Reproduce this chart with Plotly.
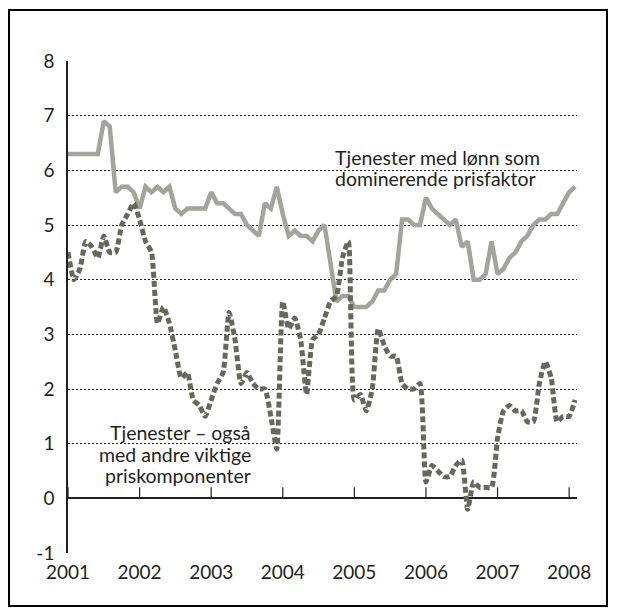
import plotly.graph_objects as go

# Monthly data, Jan 2001 - Feb 2008
start_year = 2001
lonn = [6.3, 6.3, 6.3, 6.3, 6.3, 6.3, 6.9, 6.8, 5.6, 5.7, 5.7, 5.6,
        5.3, 5.7, 5.6, 5.7, 5.6, 5.7, 5.3, 5.2, 5.3, 5.3, 5.3, 5.3,
        5.6, 5.4, 5.4, 5.3, 5.2, 5.2, 5.0, 4.9, 4.8, 5.4, 5.3, 5.7,
        5.2, 4.8, 4.9, 4.8, 4.8, 4.7, 4.9, 5.0, 4.3, 3.6, 3.7, 3.7,
        3.5, 3.5, 3.5, 3.6, 3.8, 3.8, 4.0, 4.1, 5.1, 5.1, 5.0, 5.0,
        5.5, 5.3, 5.2, 5.1, 5.0, 5.1, 4.6, 4.7, 4.0, 4.0, 4.1, 4.7,
        4.1, 4.2, 4.4, 4.5, 4.7, 4.8, 5.0, 5.1, 5.1, 5.2, 5.2, 5.4,
        5.6, 5.7]
ogsa = [4.5, 4.0, 4.2, 4.7, 4.6, 4.4, 4.8, 4.5, 4.5, 5.0, 5.2, 5.4,
        5.1, 4.7, 4.5, 3.2, 3.5, 3.2, 2.7, 2.2, 2.3, 1.8, 1.7, 1.5,
        1.8, 2.1, 2.3, 3.4, 2.9, 2.1, 2.3, 2.1, 2.0, 2.0, 1.5, 0.9,
        3.6, 3.1, 3.3, 2.9, 1.9, 2.9, 3.0, 3.3, 3.6, 3.7, 4.4, 4.7,
        1.8, 1.9, 1.6, 2.0, 3.1, 2.8, 2.6, 2.6, 2.1, 2.0, 2.0, 2.1,
        0.3, 0.6, 0.5, 0.4, 0.4, 0.6, 0.7, -0.2, 0.3, 0.2, 0.2, 0.2,
        1.1, 1.6, 1.7, 1.6, 1.6, 1.4, 1.4, 2.1, 2.5, 2.2, 1.4, 1.5,
        1.5, 1.8]
x_vals = [start_year + i / 12 for i in range(len(lonn))]

year_ticks = [2001, 2002, 2003, 2004, 2005, 2006, 2007, 2008]
y_ticks = [-1, 0, 1, 2, 3, 4, 5, 6, 7, 8]
y_ticktext = ["-1", "0", "1", "2", "3", "4", "5", "6", "7", "8"]

label_top = ["Tjenester med lønn som", "dominerende prisfaktor"]
label_bottom = ["Tjenester – også", "med andre viktige", "priskomponenter"]

TXT = "#231f20"
FONT = "Lato"
FS = 19
FS_LABEL = 19.5

fig = go.Figure()
fig.add_trace(go.Scatter(x=x_vals, y=lonn, mode="lines",
                         line=dict(color="#a4a49a", width=4.5),
                         hoverinfo="skip", showlegend=False))
fig.add_trace(go.Scatter(x=x_vals, y=ogsa, mode="lines",
                         line=dict(color="#67675c", width=5, dash="6px,3px",
                                   shape="spline", smoothing=0.5),
                         hoverinfo="skip", showlegend=False))

shapes = []
for yr in year_ticks:
    shapes.append(dict(type="line", xref="x", yref="y", ysizemode="pixel",
                       yanchor=0, x0=yr, x1=yr, y0=0, y1=11,
                       line=dict(color=TXT, width=1.2)))
# outer frame
shapes.append(dict(type="rect", xref="paper", yref="paper",
                   x0=-0.1159, x1=1.0589, y0=-0.1077, y1=1.1037,
                   line=dict(color="#000000", width=2), layer="below"))

annotations = []
for i, t in enumerate(label_top):
    annotations.append(dict(x=2004.70, y=6.24 - i * 0.395, text=t, showarrow=False,
                            xanchor="left", yanchor="middle", align="left",
                            font=dict(family=FONT, size=FS_LABEL, color=TXT)))
for i, t in enumerate(label_bottom):
    annotations.append(dict(x=2003.59, y=1.20 - i * 0.395, text=t, showarrow=False,
                            xanchor="right", yanchor="middle", align="right",
                            font=dict(family=FONT, size=FS_LABEL, color=TXT)))

fig.update_layout(
    width=602, height=600, autosize=False,
    margin=dict(l=60, r=33, t=53, b=55, pad=0),
    paper_bgcolor="white", plot_bgcolor="white",
    font=dict(family=FONT, size=FS, color=TXT),
    shapes=shapes, annotations=annotations,
    xaxis=dict(range=[2001, 2008.11], tickvals=year_ticks,
               ticktext=[str(y) for y in year_ticks],
               showgrid=False, zeroline=False, showline=False, ticks="",
               ticklabelstandoff=6,
               tickfont=dict(family=FONT, size=FS, color=TXT)),
    yaxis=dict(range=[-1, 8], tickvals=y_ticks, ticktext=y_ticktext,
               showgrid=True, gridcolor=TXT, gridwidth=1, griddash="2px,2px",
               zeroline=True, zerolinecolor=TXT, zerolinewidth=1.5,
               showline=True, linecolor=TXT, linewidth=1.5, ticks="",
               ticklabelstandoff=8,
               tickfont=dict(family=FONT, size=FS, color=TXT)),
)

fig.write_html("out.html")
